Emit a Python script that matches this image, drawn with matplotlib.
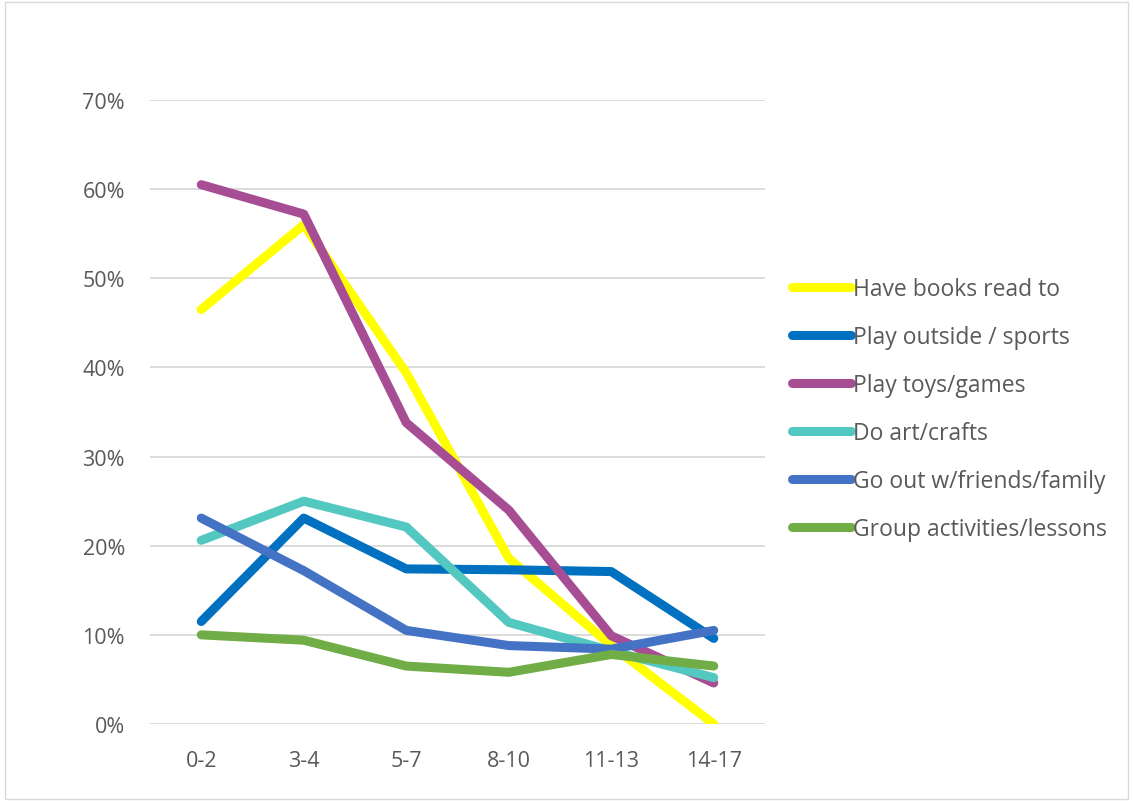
import matplotlib.pyplot as plt
from matplotlib.patches import Rectangle
from matplotlib.ticker import PercentFormatter

# age groups and share of children doing each activity (%)
ages = ["0-2", "3-4", "5-7", "8-10", "11-13", "14-17"]

books_read = [46.5, 56.0, 39.4, 18.6, 8.8, 0.0]
play_outside = [11.5, 23.1, 17.4, 17.3, 17.1, 9.6]
play_toys = [60.5, 57.2, 33.8, 24.0, 9.9, 4.6]
art_crafts = [20.6, 25.0, 22.1, 11.4, 8.2, 5.2]
go_out = [23.1, 17.2, 10.5, 8.8, 8.4, 10.5]
group_lessons = [10.0, 9.4, 6.5, 5.8, 7.8, 6.5]

series = [
    ("Have books read to", books_read, "#FFFF00"),
    ("Play outside / sports", play_outside, "#0070C0"),
    ("Play toys/games", play_toys, "#A64D94"),
    ("Do art/crafts", art_crafts, "#53C8C0"),
    ("Go out w/friends/family", go_out, "#4472C4"),
    ("Group activities/lessons", group_lessons, "#70AD47"),
]

plt.rcParams["font.family"] = ["Open Sans", "DejaVu Sans"]
text_color = "#595959"

fig = plt.figure(figsize=(11.33, 8.03), dpi=100)
ax = fig.add_axes([150 / 1133, 1 - 725 / 803, 615 / 1133, 624 / 803])

x = range(len(ages))
for name, vals, color in series:
    ax.plot(x, vals, color=color, linewidth=6.5, solid_capstyle="round",
            solid_joinstyle="round", label=name)

ax.set_xlim(-0.5, len(ages) - 0.5)
ax.set_ylim(0, 70)
ax.set_yticks(range(0, 71, 10))
ax.yaxis.set_major_formatter(PercentFormatter(decimals=0))
ax.set_xticks(list(x))
ax.set_xticklabels(ages)
ax.tick_params(length=0, labelsize=15.5, colors=text_color)
ax.tick_params(axis="y", pad=18)
ax.tick_params(axis="x", pad=19)
ax.grid(axis="y", color="#D9D9D9", linewidth=1.3)
ax.set_axisbelow(True)
for s in ax.spines.values():
    s.set_visible(False)

leg = ax.legend(loc="center left", bbox_to_anchor=(1.01, 0.505), frameon=False,
                fontsize=16.5, handlelength=2.6, handletextpad=0.05,
                labelspacing=1.05, labelcolor=text_color)
for line in leg.get_lines():
    line.set_linewidth(6.5)

# light frame around the whole chart
fig.patches.append(Rectangle((0.004, 0.004), 0.992, 0.992, transform=fig.transFigure,
                             fill=False, edgecolor="#D9D9D9", linewidth=1))

fig.savefig("out.png", dpi=100)
